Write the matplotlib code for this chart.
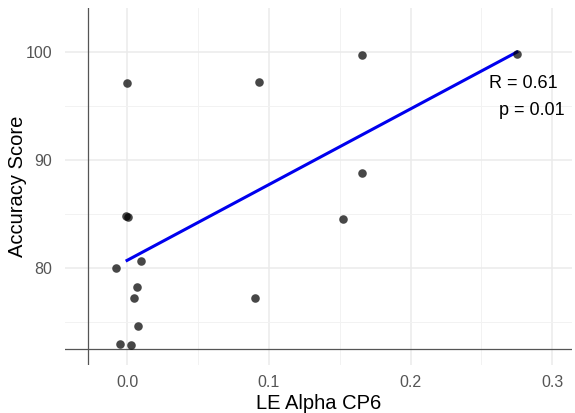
import matplotlib
matplotlib.use("Agg")
import matplotlib.pyplot as plt
from matplotlib.ticker import MultipleLocator

# data
le_alpha = [0.0, 0.093, 0.166, 0.275, 0.166, 0.152, 0.090, -0.001, 0.001,
            -0.008, 0.010, 0.007, 0.005, 0.008, -0.005, 0.003]
accuracy = [97.1, 97.2, 99.7, 99.8, 88.8, 84.5, 77.2, 84.8, 84.7,
            80.0, 80.6, 78.2, 77.2, 74.6, 73.0, 72.9]

# fitted line endpoints
fit_x = [0.0, 0.275]
fit_y = [80.7, 100.0]

x_ticks = [0.0, 0.1, 0.2, 0.3]
x_labels = ["0.0", "0.1", "0.2", "0.3"]
y_ticks = [80, 90, 100]
y_labels = ["80", "90", "100"]

stats_text = ["R = 0.61", "p = 0.01"]

plt.rcParams['font.family'] = ['Liberation Sans', 'DejaVu Sans']

fig = plt.figure(figsize=(5.75, 4.13), dpi=100)
ax = fig.add_axes([0.113, 0.116, 0.882, 0.865])

ax.set_xlim(-0.0438, 0.314)
ax.set_ylim(71.0, 104.1)

# grid like theme_minimal
ax.set_xticks(x_ticks)
ax.set_xticklabels(x_labels)
ax.set_yticks(y_ticks)
ax.set_yticklabels(y_labels)
ax.xaxis.set_minor_locator(MultipleLocator(0.05))
ax.yaxis.set_minor_locator(MultipleLocator(5))
ax.grid(which='major', color='#ebebeb', linewidth=1.1, zorder=0)
ax.grid(which='minor', color='#f2f2f2', linewidth=0.7, zorder=0)
ax.set_axisbelow(True)
for s in ax.spines.values():
    s.set_visible(False)
ax.tick_params(which='both', length=0, colors='#4d4d4d', labelsize=11.5, pad=7)
ax.tick_params(axis='y', pad=9)
for lab in ax.get_xticklabels() + ax.get_yticklabels():
    lab.set_color('#555555')

# axis lines
ax.axhline(72.5, color='#555555', linewidth=0.9, zorder=1)
ax.axvline(-0.0273, color='#555555', linewidth=0.9, zorder=1)

ax.scatter(le_alpha, accuracy, s=38, color='black', alpha=0.72,
           linewidths=0, zorder=3)
ax.plot(fit_x, fit_y, color='#0000ee', linewidth=2.2, zorder=2)

ax.text(0.3035, 97.1, stats_text[0], ha='right', va='center', fontsize=13, color='black')
ax.text(0.3085, 94.6, stats_text[1], ha='right', va='center', fontsize=13, color='black')

ax.set_xlabel("LE Alpha CP6", fontsize=14.5, labelpad=3)
ax.set_ylabel("Accuracy Score", fontsize=14.5, va='center')
ax.yaxis.set_label_coords(-0.093, 0.5)

fig.savefig("out.png", dpi=100)
